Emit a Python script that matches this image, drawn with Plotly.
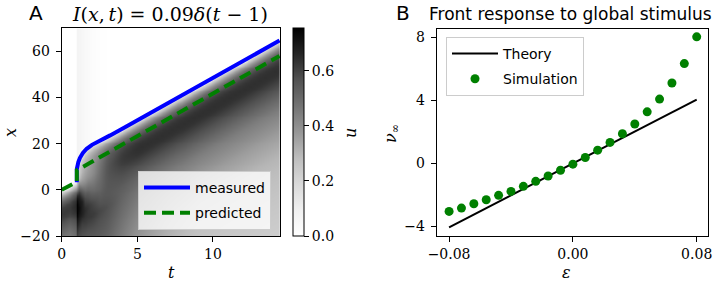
import numpy as np
import plotly.graph_objects as go

W, H = 720, 284

# ---------------- Panel A data ----------------
meas_t = [1, 1, 1.1, 1.2, 1.4, 1.65, 2, 2.5, 3.2, 4.3, 5.4, 7.2, 9.4, 11.6, 14.4]
meas_x = [3.3, 9.0, 12.0, 13.8, 16.0, 17.8, 19.5, 21.1, 23.6, 27.6, 31.6, 38.2, 46.3, 54.4, 64.7]
pred_t = [0, 1, 1, 14.4]
pred_x = [0, 3.5, 8.5, 58.0]

# u-field: front position of the field and profiles behind it
front_t = [-0.5, 0.99, 1.01, 1.1, 1.2, 1.4, 1.65, 2, 2.5, 3.2, 4.3, 5.4, 7.2, 9.4, 11.6, 14.4, 15.0]
front_x = [-1.8, 3.6, 9.5, 12.0, 13.8, 16.0, 17.8, 19.5, 21.1, 23.6, 27.6, 31.6, 38.2, 46.3, 54.4, 64.7, 66.9]
prof_d = [0, 1, 2.5, 5, 7.5, 10, 12.5, 15, 20, 25, 30, 40, 50, 60, 70, 90, 120]
prof_t = [-0.5, 0.5, 0.99, 1.01, 1.25, 1.5, 2, 2.5, 3, 4, 5, 7, 9, 15]
u_t0 = [0.10, 0.20, 0.33, 0.50, 0.60, 0.62, 0.60, 0.55, 0.47, 0.42, 0.38, 0.35, 0.33, 0.31, 0.29, 0.27, 0.26]
u_pre = [0.10, 0.22, 0.36, 0.54, 0.63, 0.66, 0.65, 0.61, 0.53, 0.47, 0.42, 0.37, 0.34, 0.31, 0.29, 0.27, 0.26]
u_post = [0.15, 0.18, 0.20, 0.22, 0.30, 0.50, 0.68, 0.75, 0.75, 0.67, 0.59, 0.50, 0.43, 0.39, 0.36, 0.33, 0.30]
u_125 = [0.12, 0.18, 0.24, 0.28, 0.30, 0.34, 0.42, 0.55, 0.70, 0.68, 0.60, 0.52, 0.46, 0.41, 0.38, 0.34, 0.30]
u_15 = [0.12, 0.20, 0.27, 0.31, 0.33, 0.35, 0.38, 0.45, 0.58, 0.65, 0.62, 0.52, 0.46, 0.42, 0.39, 0.35, 0.30]
u_2 = [0.12, 0.20, 0.30, 0.36, 0.38, 0.39, 0.40, 0.43, 0.50, 0.59, 0.62, 0.54, 0.47, 0.43, 0.40, 0.36, 0.30]
u_25 = [0.12, 0.21, 0.33, 0.42, 0.45, 0.47, 0.48, 0.49, 0.51, 0.55, 0.59, 0.54, 0.48, 0.44, 0.41, 0.37, 0.30]
u_3 = [0.12, 0.21, 0.34, 0.47, 0.53, 0.55, 0.56, 0.56, 0.55, 0.55, 0.57, 0.53, 0.48, 0.44, 0.41, 0.37, 0.30]
u_4 = [0.12, 0.21, 0.34, 0.50, 0.58, 0.61, 0.62, 0.61, 0.57, 0.53, 0.51, 0.47, 0.43, 0.40, 0.37, 0.33, 0.30]
u_5 = [0.12, 0.21, 0.34, 0.50, 0.59, 0.63, 0.64, 0.63, 0.57, 0.51, 0.47, 0.42, 0.38, 0.34, 0.31, 0.29, 0.27]
u_7 = [0.12, 0.21, 0.34, 0.50, 0.59, 0.63, 0.64, 0.63, 0.57, 0.50, 0.45, 0.38, 0.33, 0.30, 0.27, 0.25, 0.23]
u_mat = [0.12, 0.21, 0.34, 0.50, 0.59, 0.63, 0.64, 0.63, 0.57, 0.50, 0.44, 0.36, 0.30, 0.27, 0.25, 0.22, 0.20]
profiles = [u_t0, u_t0, u_pre, u_post, u_125, u_15, u_2, u_25, u_3, u_4, u_5, u_7, u_mat, u_mat]
ahead_t = [0.99, 1.01, 1.5, 2.0, 2.5, 3.2]
ahead_u = [0.0, 0.07, 0.04, 0.02, 0.008, 0.0]

# ---------------- Panel B data ----------------
eps = [-0.08, -0.072, -0.064, -0.056, -0.048, -0.04, -0.032, -0.024, -0.016, -0.008, 0.0,
       0.008, 0.016, 0.024, 0.032, 0.04, 0.048, 0.056, 0.064, 0.072, 0.08]
nu_sim = [-3.04, -2.83, -2.55, -2.30, -2.02, -1.77, -1.45, -1.13, -0.79, -0.43, -0.04,
          0.38, 0.85, 1.34, 1.89, 2.51, 3.28, 4.09, 5.11, 6.34, 8.04]
eps_theory = [-0.08, 0.08]
nu_theory = [-4.05, 4.05]

# ---------------- build heatmap table ----------------
t_grid = [round(v, 3) for v in np.arange(-0.5, 15.01, 0.2) if abs(v - 1.0) > 0.03] + [0.99, 1.01]
t_grid = sorted(t_grid)
x_grid = np.arange(-22.5, 72.51, 1.25)
P = [np.array(p) for p in profiles]
Z = np.zeros((len(x_grid), len(t_grid)))
for j, t in enumerate(t_grid):
    F = np.interp(t, front_t, front_x)
    d = F - x_grid
    k = max(0, min(len(prof_t) - 2, np.searchsorted(prof_t, t, side='right') - 1))
    w = (t - prof_t[k]) / (prof_t[k + 1] - prof_t[k])
    w = min(max(w, 0), 1)
    col = (1 - w) * np.interp(d, prof_d, P[k]) + w * np.interp(d, prof_d, P[k + 1])
    ahead = np.interp(t, ahead_t, ahead_u) if 0.99 <= t <= 3.2 else 0.0
    col[d < 0] = ahead
    Z[:, j] = col

greys = [[0, '#ffffff'], [0.125, '#f0f0f0'], [0.25, '#d9d9d9'], [0.375, '#bdbdbd'],
         [0.5, '#969696'], [0.625, '#737373'], [0.75, '#525252'], [0.875, '#252525'], [1, '#000000']]

SERIF = 'DejaVu Serif'
SANS = 'DejaVu Sans'

def px(xp):
    return xp / W

def py(yp):
    return 1 - yp / H

fig = go.Figure()
fig.add_trace(go.Heatmap(
    x=t_grid, y=x_grid, z=Z, zsmooth='best', colorscale=greys, zmin=0, zmax=0.755,
    xaxis='x', yaxis='y', showscale=True,
    colorbar=dict(x=px(293.3), xanchor='left', y=py(236), yanchor='bottom',
                  len=207.7 / H, lenmode='fraction', thickness=10.7, thicknessmode='pixels',
                  xpad=0, ypad=0, outlinewidth=1, outlinecolor='black',
                  tickvals=[0, 0.2, 0.4, 0.6], ticktext=['0.0', '0.2', '0.4', '0.6'],
                  ticks='outside', ticklen=5, tickcolor='black',
                  tickfont=dict(family=SERIF, size=14, color='black')),
    hoverinfo='skip'))
fig.add_trace(go.Scatter(x=meas_t, y=meas_x, mode='lines', name='measured',
                         line=dict(color='#0000ff', width=4), xaxis='x', yaxis='y',
                         legend='legend', legendgroup='m'))
fig.add_trace(go.Scatter(x=pred_t, y=pred_x, mode='lines', name='predicted',
                         line=dict(color='#008000', width=4, dash='12px,6px'), xaxis='x', yaxis='y',
                         legend='legend', legendgroup='p'))
fig.add_trace(go.Scatter(x=eps_theory, y=nu_theory, mode='lines', name='Theory',
                         line=dict(color='black', width=2), xaxis='x2', yaxis='y2',
                         legend='legend2', legendgroup='th'))
fig.add_trace(go.Scatter(x=eps, y=nu_sim, mode='markers', name='Simulation',
                         marker=dict(color='#008000', size=9), xaxis='x2', yaxis='y2',
                         legend='legend2', legendgroup='sim'))

axis_common = dict(showgrid=False, zeroline=False, showline=True, mirror=True, linecolor='black',
                   linewidth=1, ticks='outside', ticklen=5, tickcolor='black', tickwidth=1,
                   tickfont=dict(family=SERIF, size=14, color='black'))

fig.update_layout(
    width=W, height=H, margin=dict(l=0, r=0, t=0, b=0, autoexpand=False),
    paper_bgcolor='white', plot_bgcolor='white',
    xaxis=dict(domain=[px(61.7), px(280)], range=[0, 14.43], tickvals=[0, 5, 10], anchor='y', **axis_common),
    yaxis=dict(domain=[py(236), py(28.3)], range=[-20, 70], tickvals=[-20, 0, 20, 40, 60], anchor='x',
               ticklabelstandoff=3, **axis_common),
    xaxis2=dict(domain=[px(436.7), px(708)], range=[-0.088, 0.0873], tickvals=[-0.08, 0, 0.08],
                ticktext=['\u22120.08', '0.00', '0.08'], anchor='y2', **axis_common),
    yaxis2=dict(domain=[py(236), py(28.8)], range=[-4.6, 8.55], tickvals=[-4, 0, 4, 8], anchor='x2',
                ticklabelstandoff=3, **axis_common),
    legend=dict(x=px(138), y=py(171), xanchor='left', yanchor='top', bgcolor='rgba(255,255,255,0.8)',
                bordercolor='#cccccc', borderwidth=1, traceorder='grouped', tracegroupgap=4, itemwidth=46,
                font=dict(family=SANS, size=14, color='black')),
    legend2=dict(x=px(446), y=py(37), xanchor='left', yanchor='top', bgcolor='rgba(255,255,255,0.8)',
                 bordercolor='#cccccc', borderwidth=1, traceorder='grouped', tracegroupgap=4, itemwidth=46,
                 font=dict(family=SANS, size=14, color='black')),
)

def ann(text, x, y, size, family, angle=0, yanchor='middle'):
    fig.add_annotation(text=text, x=px(x), y=py(y), xref='paper', yref='paper', showarrow=False,
                       xanchor='center', yanchor=yanchor, textangle=angle,
                       font=dict(family=family, size=size, color='black'))

ann('A', 36, 13, 20, SANS)
ann('<i>I</i>(<i>x</i>,\u2009<i>t</i>) = 0.09<i>\u03b4</i>(<i>t</i> \u2212 1)', 170, 14, 19, SERIF)
ann('B', 403, 13, 20, SANS)
ann('Front response to global stimulus', 570.5, 14, 17, SANS)
ann('<i>t</i>', 171.7, 284, 16, SERIF, yanchor='bottom')
ann('<i>x</i>', 11, 133, 16, SERIF, -90)
ann('<i>u</i>', 351, 133, 16, SERIF, -90)
ann('<i>\u03b5</i>', 566.7, 284, 16, SERIF, yanchor='bottom')
ann('<i>\u03bd</i><sub>\u221e</sub>', 392, 133, 16, SERIF, -90)

fig.write_html('out.html', config={'displayModeBar': False},
               post_script="document.body.style.margin='0';document.body.style.padding='0';")
